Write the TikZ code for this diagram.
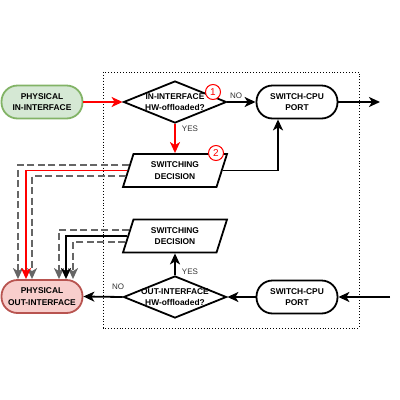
\documentclass[tikz,border=0pt]{standalone}
\usepackage{fontspec}
\setmainfont{Liberation Sans}
\usetikzlibrary{shapes.geometric,arrows.meta,calc}

\definecolor{inFill}{HTML}{D5E8D4}
\definecolor{inDraw}{HTML}{82B366}
\definecolor{outFill}{HTML}{F8CECC}
\definecolor{outDraw}{HTML}{B85450}
\definecolor{ghostGray}{HTML}{666666}

\begin{document}
\begin{tikzpicture}[x=1pt, y=-1pt,
    font=\fontsize{8.4}{11.5}\selectfont,
    flow/.style={line width=1.8pt, -{Stealth[length=11pt,width=10pt,inset=3pt]}},
    ghost/.style={flow, ghostGray, dash pattern=on 7pt off 3.5pt},
    port/.style={draw, line width=1.8pt, rounded corners=16pt, minimum width=81pt,
        minimum height=33pt, align=center, font=\fontsize{8.4}{11.5}\selectfont\bfseries},
    decision/.style={draw, diamond, line width=1.8pt, minimum width=103pt,
        minimum height=42pt, inner sep=0pt},
    switching/.style={draw, trapezium, trapezium left angle=59, trapezium right angle=121,
        trapezium stretches body, minimum width=104pt, minimum height=33pt, inner sep=0pt,
        line width=1.8pt, align=center, font=\fontsize{8.4}{11.5}\selectfont\bfseries},
    badge/.style={circle, draw=red, fill=white, line width=1pt, minimum size=15pt,
        inner sep=0pt, text=red, font=\fontsize{10}{10}\selectfont},
    answer/.style={text=black!80, font=\fontsize{8}{9}\selectfont}]

    % --- 画布与边界 ---
    \useasboundingbox (0,0) rectangle (400,400);
    \def\boxL{103}   % 虚线框左边
    \def\boxT{72}    % 虚线框上边
    \def\boxR{359}   % 虚线框右边
    \def\boxB{328}   % 虚线框下边
    \draw[dotted, line width=0.9pt] (\boxL,\boxT) rectangle (\boxR,\boxB);

    % --- 入方向 (上半部分) ---
    \node[port, fill=inFill, draw=inDraw] (inIf) at (42,102) {PHYSICAL\\IN-INTERFACE};
    \node[decision, fill=white] (inHw) at (175,102) {};
    \node[font=\fontsize{8.4}{11.5}\selectfont\bfseries, align=center] (inHwTxt) at (inHw) {IN-INTERFACE\\HW-offloaded?};
    \node[port, fill=white] (cpuUp) at (297,102) {SWITCH-CPU\\PORT};
    \node[switching, fill=white] (swUp) at (175,170.5) {SWITCHING\\DECISION};
    \coordinate (cpuUpOut) at (380,102);

    % --- 出方向 (下半部分) ---
    \node[port, fill=outFill, draw=outDraw] (outIf) at (42,296.5) {PHYSICAL\\OUT-INTERFACE};
    \node[decision, fill=white] (outHw) at (175,297) {};
    \node[font=\fontsize{8.4}{11.5}\selectfont\bfseries, align=center] (outHwTxt) at (outHw) {OUT-INTERFACE\\HW-offloaded?};
    \node[port, fill=white] (cpuDown) at (297,297) {SWITCH-CPU\\PORT};
    \node[switching, fill=white] (swDown) at (175,236) {SWITCHING\\DECISION};
    \coordinate (cpuDownIn) at (390,297);

    % --- 灰色虚线 (其他路径) ---
    \draw[ghost] ($(swUp.top left corner)!0.35!(swUp.bottom left corner)$) -| ([xshift=-24pt]outIf.north);
    \draw[ghost] ($(swUp.top left corner)!0.65!(swUp.bottom left corner)$) -| ([xshift=-10pt]outIf.north);
    \draw[ghost] ($(swDown.top left corner)!0.33!(swDown.bottom left corner)$) -| ([xshift=17pt]outIf.north);
    \draw[ghost] ($(swDown.top left corner)!0.67!(swDown.bottom left corner)$) -| ([xshift=31pt]outIf.north);

    % --- 红色路径 (硬件卸载) ---
    \draw[flow, red] (inIf) -- (inHw.west);
    \draw[flow, red] (inHw.south) -- (swUp.north);
    \draw[flow, red] ($(swUp.top left corner)!0.5!(swUp.bottom left corner)$) -| ([xshift=-16pt]outIf.north);

    % --- 黑色路径 ---
    \draw[flow] (inHw.east) -- (cpuUp.west);
    \draw[flow] ($(swUp.top right corner)!0.5!(swUp.bottom right corner)$) -| ([xshift=-19pt]cpuUp.south);
    \draw[flow] (cpuUp.east) -- (cpuUpOut);
    \draw[flow] (cpuDownIn) -- (cpuDown.east);
    \draw[flow] (cpuDown.west) -- (outHw.east);
    \draw[flow] (outHw.north) -- (swDown.south);
    \draw[flow] (outHw.west) -- (outIf.east);
    \draw[flow] ($(swDown.top left corner)!0.5!(swDown.bottom left corner)$) -| ([xshift=24pt]outIf.north);

    % --- 标签 ---
    \node[answer] (noUp) at (236,96) {NO};
    \node[answer] (yesUp) at (190,129) {YES};
    \node[answer] (noDown) at (118,287) {NO};
    \node[answer] (yesDown) at (190,272) {YES};
    \node[badge] (stepOne) at (213,92) {1};
    \node[badge] (stepTwo) at (216,153) {2};

\end{tikzpicture}
\end{document}
